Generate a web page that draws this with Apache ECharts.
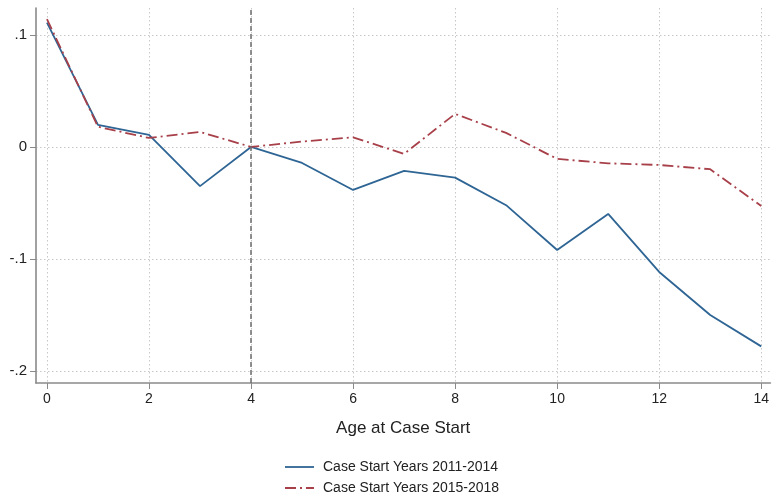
<!DOCTYPE html>
<html>
<head>
<meta charset="utf-8">
<script src="https://cdn.jsdelivr.net/npm/echarts@6/dist/echarts.min.js"></script>
<style>
  html, body { margin: 0; padding: 0; background: #fff; }
  #chart { width: 772px; height: 501px; }
</style>
</head>
<body>
<div id="chart"></div>
<script>
// Age at case start (years)
const ages = [0, 1, 2, 3, 4, 5, 6, 7, 8, 9, 10, 11, 12, 13, 14];
// Coefficients by cohort, relative to age 4
const cohort2011 = [0.111, 0.0196, 0.0107, -0.035, 0, -0.0143, -0.0384, -0.0214, -0.0274, -0.052, -0.092, -0.0598, -0.1116, -0.150, -0.178];
const cohort2015 = [0.114, 0.018, 0.008, 0.0134, 0, 0.0048, 0.0086, -0.0062, 0.0295, 0.0125, -0.0107, -0.0146, -0.0161, -0.0199, -0.0527];
const seriesNames = ['Case Start Years 2011-2014', 'Case Start Years 2015-2018'];
const xTicks = [0, 2, 4, 6, 8, 10, 12, 14];
const yTicks = [-0.2, -0.1, 0, 0.1];
const yTickLabels = ['-.2', '-.1', '0', '.1'];
const referenceAge = 4;

const font = 'Liberation Sans, Arial, sans-serif';
const blue = '#2e6594';
const red = '#a8404a';
const redDash = [11, 4, 2, 4];
const axisGrey = '#8a8a8a';
const chart = echarts.init(document.getElementById('chart'), null, { renderer: 'canvas' });

const pairs = arr => ages.map((a, i) => [a, arr[i]]);

// Stacked key below the plot: a line sample and a label per series
const keyStyles = [
  { stroke: blue, lineWidth: 1.8 },
  { stroke: red, lineWidth: 1.8, lineDash: redDash }
];
const keyGraphics = [];
seriesNames.forEach((name, i) => {
  const y = 467 + i * 21;
  keyGraphics.push({
    type: 'line', silent: true,
    shape: { x1: 285, y1: y, x2: 314, y2: y },
    style: keyStyles[i]
  });
  keyGraphics.push({
    type: 'text', silent: true, x: 323, y: y,
    style: { text: name, font: '14px ' + font, fill: '#222', textVerticalAlign: 'middle', verticalAlign: 'middle' }
  });
});

chart.setOption({
  animation: false,
  backgroundColor: '#ffffff',
  grid: { left: 36, right: 0, top: 8, bottom: 118, containLabel: false },
  xAxis: {
    type: 'value',
    min: -0.215,
    max: 14.18,
    name: 'Age at Case Start',
    nameLocation: 'middle',
    nameGap: 37,
    nameTextStyle: { fontFamily: font, fontSize: 17, color: '#222' },
    axisLine: { show: true, onZero: false, lineStyle: { color: axisGrey, width: 1.6 } },
    axisTick: { show: true, length: 6, customValues: xTicks, lineStyle: { color: axisGrey, width: 1 } },
    axisLabel: { customValues: xTicks, fontFamily: font, fontSize: 14, color: '#222', margin: 9 },
    splitLine: { show: true, lineStyle: { color: '#c8c8c8', type: [1.5, 2.5], width: 1 } }
  },
  yAxis: {
    type: 'value',
    min: -0.2107,
    max: 0.124,
    axisLine: { show: true, onZero: false, lineStyle: { color: axisGrey, width: 1.6 } },
    axisTick: { show: true, length: 6, customValues: yTicks, lineStyle: { color: axisGrey, width: 1 } },
    axisLabel: {
      customValues: yTicks,
      fontFamily: font, fontSize: 15, color: '#222', margin: 9,
      formatter: v => {
        const i = yTicks.findIndex(t => Math.abs(t - v) < 1e-9);
        return i >= 0 ? yTickLabels[i] : '';
      }
    },
    splitLine: { show: true, lineStyle: { color: '#c8c8c8', type: [1.5, 2.5], width: 1 } }
  },
  graphic: keyGraphics,
  series: [
    {
      name: seriesNames[0],
      type: 'line',
      data: pairs(cohort2011),
      symbol: 'none',
      z: 3,
      lineStyle: { color: blue, width: 1.8 },
      itemStyle: { color: blue },
      markLine: {
        silent: true,
        symbol: 'none',
        label: { show: false },
        lineStyle: { color: '#6e6e6e', type: [5, 3], width: 1.5 },
        data: [{ xAxis: referenceAge }]
      }
    },
    {
      name: seriesNames[1],
      type: 'line',
      data: pairs(cohort2015),
      symbol: 'none',
      z: 4,
      lineStyle: { color: red, width: 1.8, type: redDash },
      itemStyle: { color: red }
    }
  ]
});
</script>
</body>
</html>
